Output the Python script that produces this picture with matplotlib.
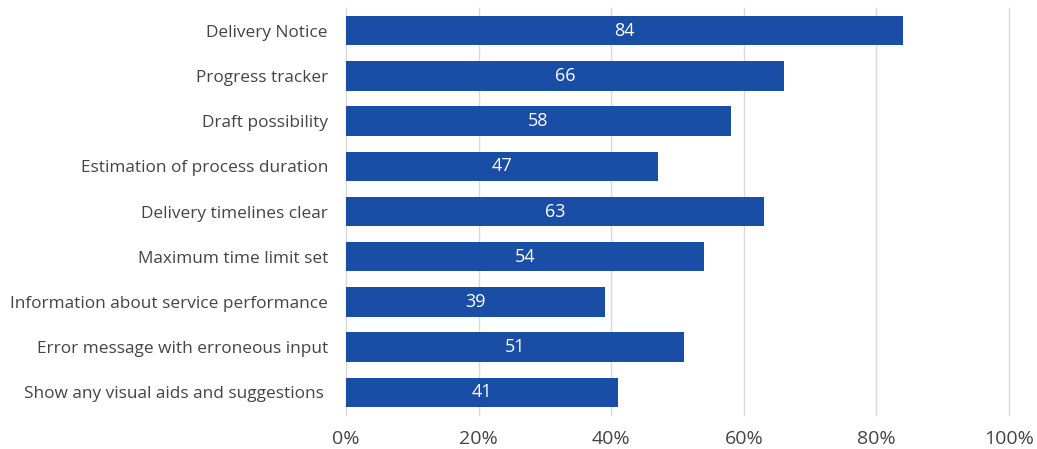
import matplotlib
matplotlib.use("Agg")
import matplotlib.pyplot as plt

categories = [
    "Delivery Notice",
    "Progress tracker",
    "Draft possibility",
    "Estimation of process duration",
    "Delivery timelines clear",
    "Maximum time limit set",
    "Information about service performance",
    "Error message with erroneous input",
    "Show any visual aids and suggestions ",
]
values = [84, 66, 58, 47, 63, 54, 39, 51, 41]
xticks = [0, 20, 40, 60, 80, 100]
xtick_labels = ["0%", "20%", "40%", "60%", "80%", "100%"]

plt.rcParams['font.family'] = ['Open Sans', 'DejaVu Sans']

fig = plt.figure(figsize=(10.37, 4.49), dpi=100)
ax = fig.add_axes([346/1037, 1 - 415/449, (1009-346)/1037, (415-8)/449])

bar_color = "#1a4ea6"
text_color = "#444444"
y = list(range(len(categories)))
bars = ax.barh(y, values, height=0.65, color=bar_color, zorder=3)
for yi, v in zip(y, values):
    ax.text(v / 2, yi, f"{v}", ha="center", va="center", color="white", fontsize=13, zorder=4)

ax.set_xlim(0, 100)
ax.set_ylim(len(categories) - 0.5, -0.5)
ax.set_yticks(y)
ax.set_yticklabels(categories, fontsize=12.45, color=text_color)
ax.set_xticks(xticks)
ax.set_xticklabels(xtick_labels, fontsize=14, color=text_color)
ax.tick_params(axis="both", length=0)
ax.tick_params(axis="y", pad=13)
ax.tick_params(axis="x", pad=11)
ax.grid(axis="x", color="#d9d9d9", linewidth=1, zorder=0)
for gl in ax.get_xgridlines():
    gl.set_clip_on(False)
for s in ax.spines.values():
    s.set_visible(False)

fig.savefig("out.png", dpi=100, facecolor="white")
